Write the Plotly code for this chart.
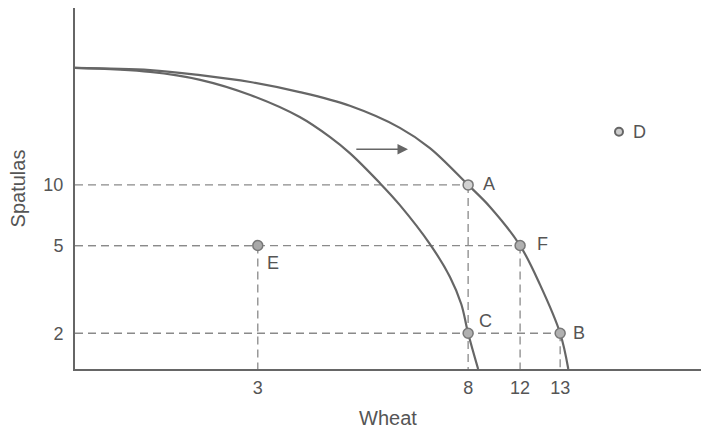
import plotly.graph_objects as go

# Axis tick positions (diagram units) and the quantities they stand for
wheat_tick_pos = [29.2, 62.8, 71.1, 77.5]
wheat_tick_text = ["3", "8", "12", "13"]
spatula_tick_pos = [51.0, 34.2, 9.9]
spatula_tick_text = ["10", "5", "2"]

# Labelled production points
point_names = ["A", "B", "C", "D", "E", "F"]
point_x = [62.8, 77.5, 62.8, 86.9, 29.2, 71.1]
point_y = [51.0, 9.9, 9.9, 65.7, 34.2, 34.2]

# Original production possibilities frontier
ppf_old_x = [0.0, 12.0, 20.0, 28.0, 35.9, 40.7, 43.9, 48.7, 51.9, 56.7, 59.9, 61.7, 62.8, 64.4]
ppf_old_y = [83.4, 82.3, 80.1, 75.9, 69.8, 64.3, 59.8, 51.5, 45.4, 34.6, 25.5, 18.0, 9.9, 0.0]

# Frontier after the outward shift
ppf_new_x = [0.0, 12.0, 20.0, 28.0, 35.9, 43.9, 51.9, 56.7, 62.8, 66.3, 71.1, 74.3, 77.5, 78.8]
ppf_new_y = [83.4, 82.8, 81.4, 79.5, 76.7, 72.9, 66.8, 61.2, 51.0, 44.9, 34.2, 23.3, 9.9, 0.0]

# Shift arrow between the curves
shift_arrow_x = [44.7, 53.2]
shift_arrow_y = [60.9, 60.9]

LINE = "#666666"
GUIDE = "#8a8a8a"
TEXT = "#555555"
FONT = "Liberation Sans, Arial, sans-serif"

pts = {n: (x, y) for n, x, y in zip(point_names, point_x, point_y)}

fig = go.Figure()

# Dashed guide lines from the points to both axes
for name in ["A", "F", "B", "E"]:
    px, py = pts[name]
    fig.add_trace(go.Scatter(x=[0, px], y=[py, py], mode="lines",
                             line=dict(color=GUIDE, width=1.3, dash="8px,5px"),
                             hoverinfo="skip", showlegend=False))
    fig.add_trace(go.Scatter(x=[px, px], y=[py, 0], mode="lines",
                             line=dict(color=GUIDE, width=1.3, dash="8px,5px"),
                             hoverinfo="skip", showlegend=False))

# The two frontiers
for cx, cy in [(ppf_old_x, ppf_old_y), (ppf_new_x, ppf_new_y)]:
    fig.add_trace(go.Scatter(x=cx, y=cy, mode="lines",
                             line=dict(color=LINE, width=2.2, shape="spline", smoothing=1.0),
                             hoverinfo="skip", showlegend=False))

# Points
fills = {"A": "#d2d2d2", "B": "#b0b0b0", "C": "#b0b0b0", "E": "#a8a8a8", "F": "#b0b0b0"}
big = [n for n in point_names if n != "D"]
fig.add_trace(go.Scatter(
    x=[pts[n][0] for n in big], y=[pts[n][1] for n in big], mode="markers",
    marker=dict(size=10, color=[fills[n] for n in big], line=dict(color="#777777", width=1.5)),
    hoverinfo="skip", showlegend=False))
fig.add_trace(go.Scatter(
    x=[pts["D"][0]], y=[pts["D"][1]], mode="markers",
    marker=dict(size=8, color="#cccccc", line=dict(color="#666666", width=2)),
    hoverinfo="skip", showlegend=False))

# Point labels
label_offsets = {"A": (21, 1), "B": (19, 0), "C": (17, 12), "D": (21, 0),
                 "E": (15, -17), "F": (22, 2)}
for n in point_names:
    dx, dy = label_offsets[n]
    fig.add_annotation(x=pts[n][0], y=pts[n][1], text=n, showarrow=False,
                       xshift=dx, yshift=dy, font=dict(family=FONT, size=18, color=TEXT))

# Shift arrow
fig.add_annotation(x=shift_arrow_x[1], y=shift_arrow_y[1],
                   ax=shift_arrow_x[0], ay=shift_arrow_y[0],
                   xref="x", yref="y", axref="x", ayref="y", text="",
                   showarrow=True, arrowhead=2, arrowsize=1.4, arrowwidth=1.5,
                   arrowcolor="#666666")

fig.update_layout(
    width=701, height=430,
    margin=dict(l=75, r=0, t=8, b=61),
    paper_bgcolor="white", plot_bgcolor="white",
    font=dict(family=FONT, size=18, color=TEXT),
    xaxis=dict(range=[0, 100], tickvals=wheat_tick_pos, ticktext=wheat_tick_text,
               showgrid=False, zeroline=False, showline=True, linecolor=LINE,
               linewidth=2, ticks="", ticklabelstandoff=1,
               tickfont=dict(size=18),
               title=dict(text="Wheat", standoff=14, font=dict(size=20))),
    yaxis=dict(range=[0, 100], tickvals=spatula_tick_pos, ticktext=spatula_tick_text,
               showgrid=False, zeroline=False, showline=True, linecolor=LINE,
               linewidth=2, ticks="", ticklabelstandoff=6,
               tickfont=dict(size=18),
               title=dict(text="Spatulas", standoff=12, font=dict(size=20))),
)

fig.write_html("out.html")
